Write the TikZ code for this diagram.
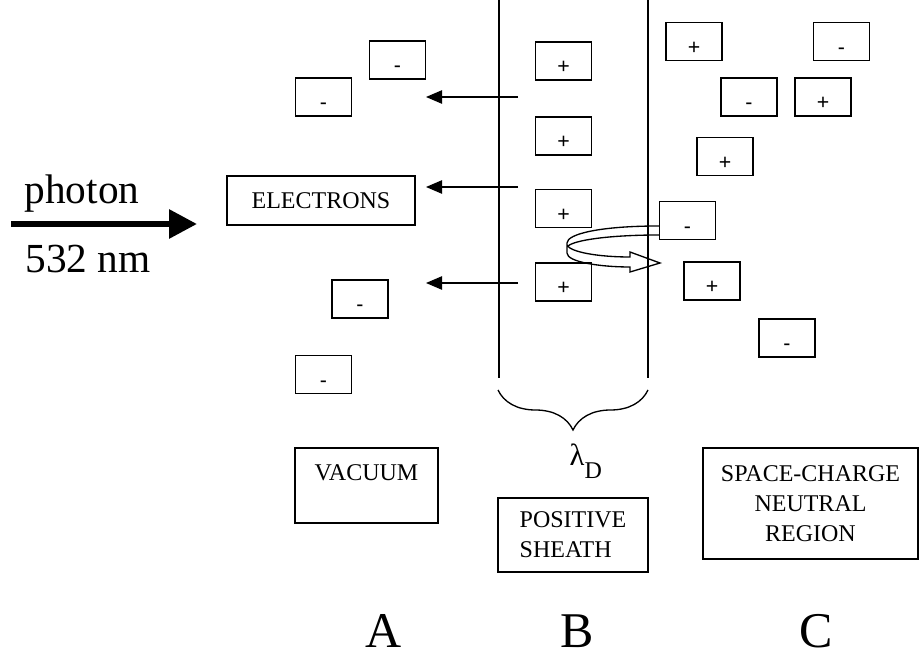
\documentclass[tikz,border=0pt]{standalone}
\usepackage{fontspec}
\setmainfont{Liberation Serif}
\setsansfont{Liberation Sans}
\usetikzlibrary{arrows.meta,decorations.pathreplacing}
\begin{document}
\begin{tikzpicture}[
        x=0.75pt, y=-0.75pt,
        line width=1.1pt,
        charge/.style={draw, minimum width=42pt, minimum height=28.5pt, inner sep=0pt,
            text height=19pt, text depth=0pt, font=\sffamily\fontsize{16}{16}\selectfont},
        tag/.style={draw, inner sep=0pt, font=\fontsize{18}{22.5}\selectfont},
        push/.style={line width=1pt, -{Triangle[length=12pt,width=10pt]}},
        big/.style={anchor=base, font=\fontsize{31}{31}\selectfont},
        region/.style={anchor=base, inner sep=0pt, text depth=0pt, font=\fontsize{37.5}{37.5}\selectfont}
        ]
    \useasboundingbox (0,0) rectangle (922,656);

    % electrons in the vacuum
    \node[charge] (e1) at (397.5,60) {-};
    \node[charge] (e2) at (323.5,97) {-};
    \node[charge] (e3) at (360,299) {-};
    \node[charge] (e4) at (323.5,374.5) {-};

    % ions left in the sheath
    \node[charge] (i1) at (563.5,61) {+};
    \node[charge] (i2) at (563.5,136) {+};
    \node[charge] (i3) at (563.5,208.5) {+};
    \node[charge] (i4) at (563.5,282) {+};

    % neutral plasma
    \node[charge] (c1) at (694,41.5) {+};
    \node[charge] (c2) at (841.5,41.5) {-};
    \node[charge] (c3) at (749,97) {-};
    \node[charge] (c4) at (823,97) {+};
    \node[charge] (c5) at (725,156.5) {+};
    \node[charge] (c6) at (687.5,220.5) {-};
    \node[charge] (c7) at (712,281) {+};
    \node[charge] (c8) at (787,338) {-};

    % sheath walls and width
    \draw (499,0) -- (499,378);
    \draw (648,0) -- (648,378);
    \draw[line width=1pt, decorate, decoration={brace, mirror, amplitude=30pt}] (498,390) -- (648,390);
    \node[anchor=base west, inner sep=0pt, font=\fontsize{23}{23}\selectfont] (lam) at (569,465)
        {λ\raisebox{-10pt}{\fontsize{18}{18}\selectfont D}};

    % electrons pushed out
    \foreach \y [count=\k] in {97,187,283} {
        \coordinate (s\k) at (518,\y);
        \coordinate (t\k) at (426,\y);
        \draw[push] (s\k) -- (t\k);
    }

    % electron turned back at the sheath
    \draw[line width=1pt] (c6.west |- 0,226) .. controls (600,226) and (567,234) .. (567,243) -- (567,253)
        .. controls (567,262) and (600,267) .. (630,267) -- (630,272) -- (660,263)
        -- (630,252) -- (630,257) .. controls (598,257) and (570,252) .. (567,245);
    \draw[line width=1pt] (c6.west |- 0,235) .. controls (610,235) and (575,240) .. (568,246);

    % laser
    \coordinate (ph_a) at (11,224);
    \coordinate (ph_b) at (197,224);
    \draw[line width=4.5pt, -{Triangle[length=21pt,width=21pt]}] (ph_a) -- (ph_b);
    \node[big] (ph) at (82,204) {photon};
    \node[big] (wl) at (88,273) {532 nm};

    % labels
    \node[tag, minimum width=141pt, minimum height=36.75pt] (el) at (321,200.5) {ELECTRONS};
    \node[tag, minimum width=107pt, minimum height=56pt, text height=13pt, text depth=21pt]
        (vac) at (366.5,485.5) {VACUUM};
    \node[tag, minimum width=112.5pt, minimum height=55.5pt, align=left] (sh) at (573,535)
        {POSITIVE\\SHEATH};
    \node[tag, minimum width=161pt, minimum height=83pt, align=center] (nr) at (810.5,503.5)
        {SPACE-CHARGE\\NEUTRAL\\REGION};

    \node[region] (A) at (384,647) {A};
    \node[region] (B) at (577,647) {B};
    \node[region] (C) at (816,647) {C};
\end{tikzpicture}
\end{document}
